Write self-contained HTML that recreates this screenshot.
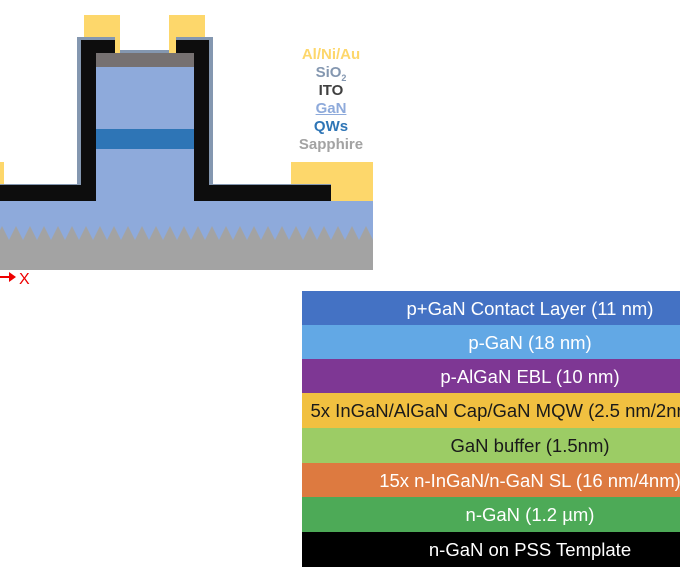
<!DOCTYPE html>
<html><head><style>
body{margin:0;width:680px;height:580px;background:#fff;position:relative;overflow:hidden;font-family:"Liberation Sans",sans-serif}
.leg{position:absolute;left:286px;width:90px;text-align:center;font-weight:bold;font-size:15px;line-height:18px}
#tbl{position:absolute;left:302px;top:291px;width:378px;height:276px;overflow:hidden}
.row{position:absolute;left:0;width:456px;height:35px;line-height:35px;font-size:18.5px;color:#fff;text-align:center;white-space:nowrap}
</style></head><body>
<svg width="680" height="300" style="position:absolute;left:0;top:0">
<rect x="84" y="15" width="36" height="40" fill="#fdd76b"/>
<rect x="169" y="15" width="36" height="40" fill="#fdd76b"/>
<rect x="291" y="162" width="82" height="40" fill="#fdd76b"/>
<rect x="0" y="162" width="4" height="25" fill="#fdd76b"/>
<rect x="0" y="225" width="373" height="45" fill="#a3a3a3"/>
<path d="M0 201 H373 V240 L366 226 L359 240 L352 226 L345 240 L338 226 L331 240 L324 226 L317 240 L310 226 L303 240 L296 226 L289 240 L282 226 L275 240 L268 226 L261 240 L254 226 L247 240 L240 226 L233 240 L226 226 L219 240 L212 226 L205 240 L198 226 L191 240 L184 226 L177 240 L170 226 L163 240 L156 226 L149 240 L142 226 L135 240 L128 226 L121 240 L114 226 L107 240 L100 226 L93 240 L86 226 L79 240 L72 226 L65 240 L58 226 L51 240 L44 226 L37 240 L30 226 L23 240 L16 226 L9 240 L2 226 L0 230 Z" fill="#8eaadb"/>
<path d="M77 37 H115 V50 H175 V37 H213 V184 H331 V201 H0 V184 H77 Z" fill="#8497b0"/>
<path d="M81 40 H115 V53 H96 V201 H0 V185 H81 Z" fill="#0d0d0d"/>
<path d="M176 40 H209 V185 H331 V201 H194 V53 H176 Z" fill="#0d0d0d"/>
<rect x="115" y="37" width="5" height="16" fill="#fdd76b"/>
<rect x="169" y="37" width="7" height="16" fill="#fdd76b"/>
<rect x="96" y="53" width="98" height="148" fill="#8eaadb"/>
<rect x="96" y="129" width="98" height="20" fill="#2e75b6"/>
<rect x="96" y="53" width="98" height="14" fill="#767171"/>
<line x1="0" y1="277" x2="10" y2="277" stroke="#e00" stroke-width="2"/>
<path d="M9 272 L16 277 L9 282 Z" fill="#e00"/>
<text x="19" y="284" font-family="Liberation Sans" font-size="16" fill="#e00">X</text>
</svg>
<div class="leg" style="top:46px;color:#fdd76b">Al/Ni/Au</div>
<div class="leg" style="top:64px;color:#8497b0">SiO<sub style="font-size:9px">2</sub></div>
<div class="leg" style="top:82px;color:#404040">ITO</div>
<div class="leg" style="top:100px;color:#8eaadb;text-decoration:underline">GaN</div>
<div class="leg" style="top:118px;color:#2e75b6">QWs</div>
<div class="leg" style="top:136px;color:#a3a3a3">Sapphire</div>
<div id="tbl">
<div class="row" style="top:0;background:#4472c4">p+GaN Contact Layer (11 nm)</div>
<div class="row" style="top:34px;background:#62a8e5">p-GaN (18 nm)</div>
<div class="row" style="top:68px;background:#7e3794">p-AlGaN EBL (10 nm)</div>
<div class="row" style="top:102px;background:#f1c040;color:#1a1a1a">5x InGaN/AlGaN Cap/GaN MQW (2.5 nm/2nm/10nm)</div>
<div class="row" style="top:137px;background:#9ccc65;color:#1a1a1a">GaN buffer (1.5nm)</div>
<div class="row" style="top:172px;background:#dd7a40">15x n-InGaN/n-GaN SL (16 nm/4nm)</div>
<div class="row" style="top:206px;background:#4daa57">n-GaN (1.2 µm)</div>
<div class="row" style="top:241px;background:#000">n-GaN on PSS Template</div>
</div>
</body></html>
